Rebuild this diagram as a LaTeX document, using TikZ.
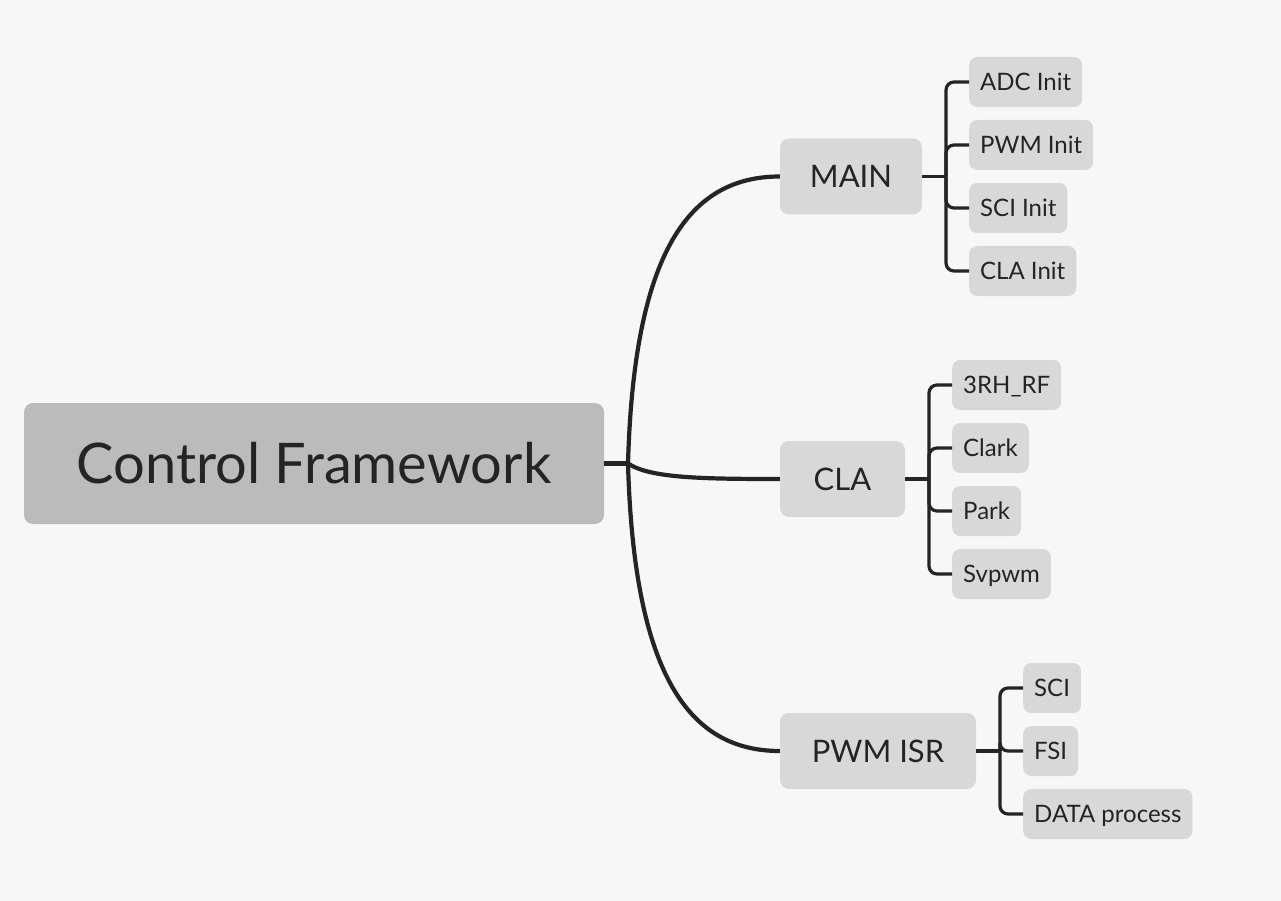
\documentclass[tikz,border=0pt]{standalone}
\usepackage{fontspec}
\setmainfont{Lato}
\definecolor{bgc}{HTML}{F7F7F7}
\definecolor{rootc}{HTML}{BBBBBB}
\definecolor{boxc}{HTML}{D8D8D8}
\definecolor{inkc}{HTML}{242424}
\begin{document}
\begin{tikzpicture}[x=1pt,y=-1pt,
  rootbox/.style={fill=rootc,rounded corners=9pt,minimum width=580pt,minimum height=121pt,inner sep=0pt,text=inkc,font=\fontsize{56}{56}\selectfont},
  midbox/.style={fill=boxc,rounded corners=9pt,minimum height=76pt,inner xsep=0pt,text=inkc,font=\fontsize{31}{31}\selectfont},
  leafbox/.style={fill=boxc,rounded corners=8pt,minimum height=50pt,inner xsep=11pt,inner ysep=0pt,anchor=west,text=inkc,text depth=1pt,font=\fontsize{24}{24}\selectfont},
  trunk/.style={draw=inkc,line width=4.2pt},
  twig/.style={draw=inkc,line width=3.2pt,rounded corners=8pt}]
\fill[bgc] (0,0) rectangle (1281,901);
\useasboundingbox (0,0) rectangle (1281,901);
% root
\node[rootbox] (root) at (314,463.5) {Control Framework};
\coordinate (J) at (628,463.5);
% level 1
\node[midbox,minimum width=142pt] (main) at (851,176.5) {MAIN};
\node[midbox,minimum width=125pt] (cla) at (842.5,479) {CLA};
\node[midbox,minimum width=196pt] (isr) at (878,751) {PWM ISR};
% leaves MAIN
\node[leafbox] (adc) at (969,82) {ADC Init};
\node[leafbox] (pwm) at (969,145) {PWM Init};
\node[leafbox] (sci) at (969,208) {SCI Init};
\node[leafbox] (clainit) at (969,271) {CLA Init};
% leaves CLA
\node[leafbox] (rh) at (952,385) {3RH\_RF};
\node[leafbox] (clark) at (952,448) {Clark};
\node[leafbox] (park) at (952,511) {Park};
\node[leafbox] (svp) at (952,574) {Svpwm};
% leaves ISR
\node[leafbox] (scis) at (1023,688) {SCI};
\node[leafbox] (fsi) at (1023,751) {FSI};
\node[leafbox] (data) at (1023,814) {DATA process};
% trunks
\draw[trunk] (root.east) -- (J);
\draw[trunk] (J) .. controls (634,250) and (690,176.5) .. (main.west);
\draw[trunk] (J) .. controls (650,478) and (700,479) .. (cla.west);
\draw[trunk] (J) .. controls (634,677) and (690,751) .. (isr.west);
% twigs MAIN
\coordinate (sm) at (946,176.5);
\draw[twig] (main.east) -- (sm);
\foreach \c in {adc,pwm,sci,clainit} \draw[twig] (sm) |- (\c.west);
% twigs CLA
\coordinate (sc) at (929,479);
\draw[twig] (cla.east) -- (sc);
\foreach \c in {rh,clark,park,svp} \draw[twig] (sc) |- (\c.west);
% twigs ISR
\coordinate (si) at (1000,751);
\draw[twig] (isr.east) -- (si);
\foreach \c in {scis,fsi,data} \draw[twig] (si) |- (\c.west);
\end{tikzpicture}
\end{document}
